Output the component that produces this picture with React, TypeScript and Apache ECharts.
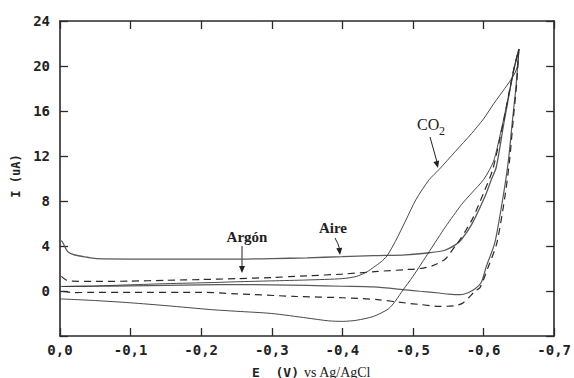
import React, { useEffect, useRef } from "react";
import * as echarts from "echarts";

// Axis ticks
const xTickValues = [0, -0.1, -0.2, -0.3, -0.4, -0.5, -0.6, -0.7];
const yTickValues = [0, 4, 8, 12, 16, 20, 24];

// Aire (solid grey) forward scan
const aireFwdE = [0, -0.003, -0.011, -0.021, -0.039, -0.053, -0.1, -0.15, -0.2, -0.25, -0.3, -0.35, -0.4, -0.444, -0.49, -0.523, -0.544, -0.56, -0.569, -0.583, -0.602, -0.611, -0.618, -0.629, -0.643, -0.65];
const aireFwdI = [4.5, 4.4, 3.5, 3.2, 3.0, 2.87, 2.84, 2.84, 2.84, 2.84, 2.88, 2.95, 3.05, 3.15, 3.22, 3.4, 3.6, 4.1, 4.6, 5.9, 8.4, 9.9, 11.0, 15.0, 19.7, 21.5];
// Aire return scan
const aireRetE = [-0.65, -0.646, -0.641, -0.635, -0.628, -0.616, -0.604, -0.597, -0.588, -0.578, -0.567, -0.55, -0.537, -0.51, -0.49, -0.444, -0.4, -0.35, -0.3, -0.25, -0.2, -0.15, -0.1, -0.05, -0.003];
const aireRetI = [21.5, 18.2, 15.2, 11.5, 8.5, 4.3, 2.2, 0.8, 0.2, -0.15, -0.33, -0.28, -0.18, -0.02, 0.1, 0.36, 0.42, 0.5, 0.55, 0.58, 0.55, 0.5, 0.45, 0.42, 0.4];

// Argón (dashed) forward scan
const argonFwdE = [-0.002, -0.008, -0.015, -0.05, -0.1, -0.15, -0.2, -0.25, -0.3, -0.35, -0.4, -0.45, -0.49, -0.51, -0.528, -0.545, -0.553, -0.56, -0.567, -0.575, -0.585, -0.6, -0.613, -0.628, -0.642, -0.65];
const argonFwdI = [1.3, 1.0, 0.88, 0.85, 0.88, 0.95, 1.02, 1.1, 1.2, 1.35, 1.5, 1.74, 1.9, 2.0, 2.25, 2.8, 3.4, 4.0, 4.6, 5.4, 6.5, 8.7, 10.8, 15.0, 19.5, 21.5];
// Argón return scan
const argonRetE = [-0.65, -0.647, -0.642, -0.637, -0.631, -0.619, -0.607, -0.595, -0.588, -0.579, -0.57, -0.56, -0.537, -0.51, -0.49, -0.45, -0.4, -0.333, -0.25, -0.2, -0.1, -0.04, -0.02, -0.002];
const argonRetI = [21.5, 18.5, 15.2, 11.7, 8.7, 4.3, 2.2, 0.3, 0.0, -0.6, -1.1, -1.3, -1.37, -1.2, -1.07, -0.77, -0.6, -0.48, -0.25, -0.12, -0.12, -0.12, -0.15, 0.0];

// CO2 (thin solid) forward scan
const co2FwdE = [0, -0.05, -0.1, -0.15, -0.215, -0.25, -0.3, -0.35, -0.4, -0.42, -0.435, -0.444, -0.455, -0.463, -0.475, -0.49, -0.504, -0.523, -0.537, -0.56, -0.583, -0.6, -0.615, -0.63, -0.643, -0.648, -0.65];
const co2FwdI = [0.4, 0.45, 0.55, 0.65, 0.75, 0.82, 0.9, 0.98, 1.1, 1.3, 1.7, 2.1, 2.6, 3.1, 4.4, 6.3, 8.1, 9.9, 10.8, 12.4, 14.0, 15.3, 16.7, 18.0, 19.2, 20.0, 21.5];
// CO2 return scan
const co2RetE = [-0.65, -0.643, -0.635, -0.625, -0.614, -0.6, -0.583, -0.569, -0.546, -0.523, -0.5, -0.486, -0.475, -0.465, -0.444, -0.42, -0.4, -0.38, -0.35, -0.3, -0.25, -0.215, -0.15, -0.1, -0.05, 0];
const co2RetI = [21.5, 19.7, 17.2, 14.3, 11.5, 9.9, 8.7, 7.7, 5.7, 3.5, 1.3, 0.1, -0.9, -1.6, -2.26, -2.6, -2.7, -2.65, -2.4, -2.0, -1.8, -1.66, -1.3, -1.05, -0.85, -0.7];

const pairs = (e: number[], i: number[]) => e.map((v, k) => [v, i[k]]);

const AXIS_COLOR = "#2a2a2a";
const MONO = "DejaVu Sans Mono";
const SERIF = "Liberation Serif";

function arrowHead(tx: number, ty: number, fx: number, fy: number, len = 7, half = 3) {
  const dx = tx - fx;
  const dy = ty - fy;
  const d = Math.hypot(dx, dy);
  const ux = dx / d;
  const uy = dy / d;
  const bx = tx - ux * len;
  const by = ty - uy * len;
  return {
    type: "polygon",
    shape: { points: [[tx, ty], [bx - uy * half, by + ux * half], [bx + uy * half, by - ux * half]] },
    style: { fill: "#222" },
  };
}

export default function App() {
  const ref = useRef<HTMLDivElement>(null);

  useEffect(() => {
    if (!ref.current) return;
    const chart = echarts.init(ref.current, null, { renderer: "svg" });

    const fmtX = (v: number) => {
      const r = Math.round(v * 10) / 10;
      if (Math.abs(r) < 1e-9) return "0,0";
      return r.toFixed(1).replace(".", ",");
    };

    const tickStyle = { inside: true, length: 8, lineStyle: { color: AXIS_COLOR, width: 1.3 } };
    const lineStyleAxis = { onZero: false, lineStyle: { color: AXIS_COLOR, width: 1.6 } };

    const labelStyle = {
      fontFamily: MONO,
      fontWeight: "bold" as const,
      fontSize: 14,
      color: "#222",
    };

    const xCommon = {
      type: "value" as const,
      min: -0.7,
      max: 0,
      interval: 0.1,
      inverse: true,
      splitLine: { show: false },
      axisLine: lineStyleAxis,
      axisTick: tickStyle,
    };
    const yCommon = {
      type: "value" as const,
      min: -4,
      max: 24,
      interval: 4,
      splitLine: { show: false },
      axisLine: lineStyleAxis,
      axisTick: tickStyle,
    };

    const lineSeries = (name: string, data: number[][], color: string, width: number, type: any) => ({
      name,
      type: "line" as const,
      data,
      showSymbol: false,
      smooth: 0.25,
      xAxisIndex: 0,
      yAxisIndex: 0,
      lineStyle: { color, width, type },
      z: 3,
    });

    chart.setOption({
      animation: false,
      backgroundColor: "#ffffff",
      grid: { left: 60, right: 10, top: 21, bottom: 42 },
      xAxis: [
        {
          ...xCommon,
          position: "bottom",
          axisLabel: {
            ...labelStyle,
            margin: 7,
            formatter: (v: number) => (xTickValues.some((t) => Math.abs(t - v) < 1e-6) ? fmtX(v) : ""),
          },
        },
        {
          ...xCommon,
          position: "top",
          axisLabel: { show: false },
        },
      ],
      yAxis: [
        {
          ...yCommon,
          position: "left",
          axisLabel: {
            ...labelStyle,
            margin: 10,
            formatter: (v: number) => (yTickValues.includes(v) ? String(v) : ""),
          },
        },
        {
          ...yCommon,
          position: "right",
          axisLabel: { show: false },
        },
      ],
      series: [
        lineSeries("Aire ida", pairs(aireFwdE, aireFwdI), "#5a5a5a", 1.3, "solid"),
        lineSeries("Aire vuelta", pairs(aireRetE, aireRetI), "#5a5a5a", 1.2, "solid"),
        lineSeries("Argón ida", pairs(argonFwdE, argonFwdI), "#2a2a2a", 1.2, [7, 5]),
        lineSeries("Argón vuelta", pairs(argonRetE, argonRetI), "#2a2a2a", 1.2, [7, 5]),
        lineSeries("CO2 ida", pairs(co2FwdE, co2FwdI), "#333333", 0.9, "solid"),
        lineSeries("CO2 vuelta", pairs(co2RetE, co2RetI), "#333333", 0.9, "solid"),
      ],
      graphic: [
        {
          type: "text",
          x: 16,
          y: 176,
          rotation: Math.PI / 2,
          style: {
            text: "I (uA)",
            fontFamily: MONO,
            fontWeight: "bold",
            fontSize: 12,
            fill: "#222",
            textAlign: "center",
            textVerticalAlign: "middle",
          },
        },
        {
          type: "text",
          x: 252,
          y: 372,
          style: {
            text: "E  (V)",
            fontFamily: MONO,
            fontWeight: "bold",
            fontSize: 13,
            fill: "#222",
            textAlign: "left",
            textVerticalAlign: "middle",
          },
        },
        {
          type: "text",
          x: 304,
          y: 372,
          style: {
            text: "vs Ag/AgCl",
            fontFamily: SERIF,
            fontSize: 14,
            fill: "#222",
            textAlign: "left",
            textVerticalAlign: "middle",
          },
        },
        // Argón label + arrow
        {
          type: "text",
          x: 247,
          y: 237,
          style: {
            text: "Argón",
            fontFamily: SERIF,
            fontWeight: "bold",
            fontSize: 15,
            fill: "#222",
            textAlign: "center",
            textVerticalAlign: "middle",
          },
        },
        { type: "line", shape: { x1: 242, y1: 246, x2: 242, y2: 268 }, style: { stroke: "#222", lineWidth: 1 } },
        arrowHead(242, 273, 242, 246),
        // Aire label + arrow
        {
          type: "text",
          x: 333,
          y: 228,
          style: {
            text: "Aire",
            fontFamily: SERIF,
            fontWeight: "bold",
            fontSize: 15,
            fill: "#222",
            textAlign: "center",
            textVerticalAlign: "middle",
          },
        },
        {
          type: "bezierCurve",
          shape: { x1: 335, y1: 238, cpx1: 338, cpy1: 243, x2: 340, y2: 250 },
          style: { stroke: "#222", lineWidth: 1, fill: null },
        },
        arrowHead(340, 255, 339, 246),
        // CO2 label + arrow
        {
          type: "text",
          x: 417,
          y: 124,
          style: {
            text: "CO",
            fontFamily: SERIF,
            fontSize: 16,
            fill: "#222",
            textAlign: "left",
            textVerticalAlign: "middle",
          },
        },
        {
          type: "text",
          x: 439,
          y: 131,
          style: {
            text: "2",
            fontFamily: SERIF,
            fontSize: 12,
            fill: "#222",
            textAlign: "left",
            textVerticalAlign: "middle",
          },
        },
        { type: "line", shape: { x1: 430, y1: 137, x2: 437, y2: 162 }, style: { stroke: "#222", lineWidth: 1 } },
        arrowHead(438, 168, 430, 137),
      ],
    });

    return () => {
      chart.dispose();
    };
  }, []);

  return (
    <div
      ref={ref}
      style={{ position: "fixed", left: 0, top: 0, width: 574, height: 378, background: "#fff" }}
    />
  );
}
